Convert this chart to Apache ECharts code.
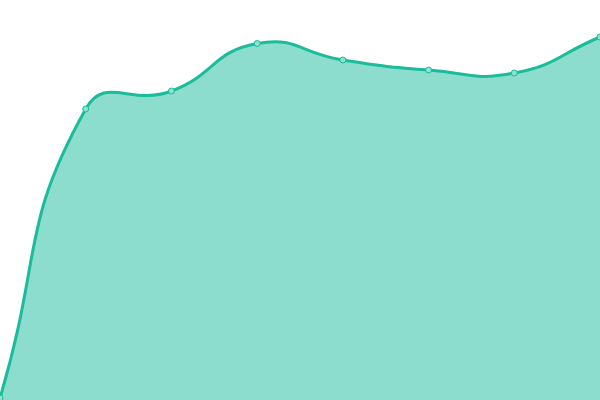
<!DOCTYPE html>
<html><head><meta charset="utf-8">
<script src="https://cdn.jsdelivr.net/npm/echarts@6/dist/echarts.min.js"></script>
<style>html,body{margin:0;padding:0;background:#fff}#c{width:600px;height:400px}</style>
</head><body><div id="c"></div>
<script>
const categories = ['1','2','3','4','5','6','7','8'];
const values = [2, 291, 309, 356.5, 340, 330, 327, 363];
const SMOOTH = 0.5;

function smoothPath(pts) {
  // cardinal-style bezier (control points scaled by distance ratio), like classic ECharts smoothing
  let d = 'M' + pts[0][0] + ' ' + pts[0][1];
  const cps = pts.map((p, i) => {
    const prev = pts[Math.max(i - 1, 0)], next = pts[Math.min(i + 1, pts.length - 1)];
    const vx = (next[0] - prev[0]) * SMOOTH, vy = (next[1] - prev[1]) * SMOOTH;
    let l0 = Math.hypot(p[0] - prev[0], p[1] - prev[1]);
    let l1 = Math.hypot(next[0] - p[0], next[1] - p[1]);
    const s = l0 + l1; if (s) { l0 /= s; l1 /= s; }
    return {c0: [p[0] - vx * l0, p[1] - vy * l0], c1: [p[0] + vx * l1, p[1] + vy * l1]};
  });
  for (let i = 1; i < pts.length; i++) {
    const a = cps[i - 1].c1, b = cps[i].c0, p = pts[i];
    d += ' C' + a[0] + ' ' + a[1] + ' ' + b[0] + ' ' + b[1] + ' ' + p[0] + ' ' + p[1];
  }
  return d;
}

const chart = echarts.init(document.getElementById('c'));
chart.setOption({
  animation: false,
  grid: {left: 0, right: 0, top: 0, bottom: 0},
  xAxis: {type: 'category', data: categories, boundaryGap: false, show: false},
  yAxis: {type: 'value', min: 0, max: 400, show: false},
  series: [{
    type: 'custom',
    data: values.map((v, i) => [i, v]),
    encode: {x: 0, y: 1},
    renderItem: function (params, api) {
      if (params.dataIndex !== 0) return null;
      const pts = values.map((v, i) => api.coord([i, v]));
      const line = smoothPath(pts);
      const bl = api.coord([0, 0]), br = api.coord([values.length - 1, 0]);
      const area = line + ' L' + br[0] + ' ' + br[1] + ' L' + bl[0] + ' ' + bl[1] + ' Z';
      return {
        type: 'group',
        children: [
          {type: 'path', shape: {pathData: area}, style: {fill: 'rgba(26,188,156,0.5)', stroke: null}},
          {type: 'path', shape: {pathData: line}, style: {fill: null, stroke: '#1abc9c', lineWidth: 3}}
        ]
      };
    },
    z: 2
  }, {
    type: 'line',
    data: values,
    symbol: 'circle',
    symbolSize: 6,
    showSymbol: true,
    itemStyle: {color: '#8ee0cf', borderColor: '#1abc9c', borderWidth: 1},
    lineStyle: {opacity: 0},
    z: 3
  }]
});
</script></body></html>
